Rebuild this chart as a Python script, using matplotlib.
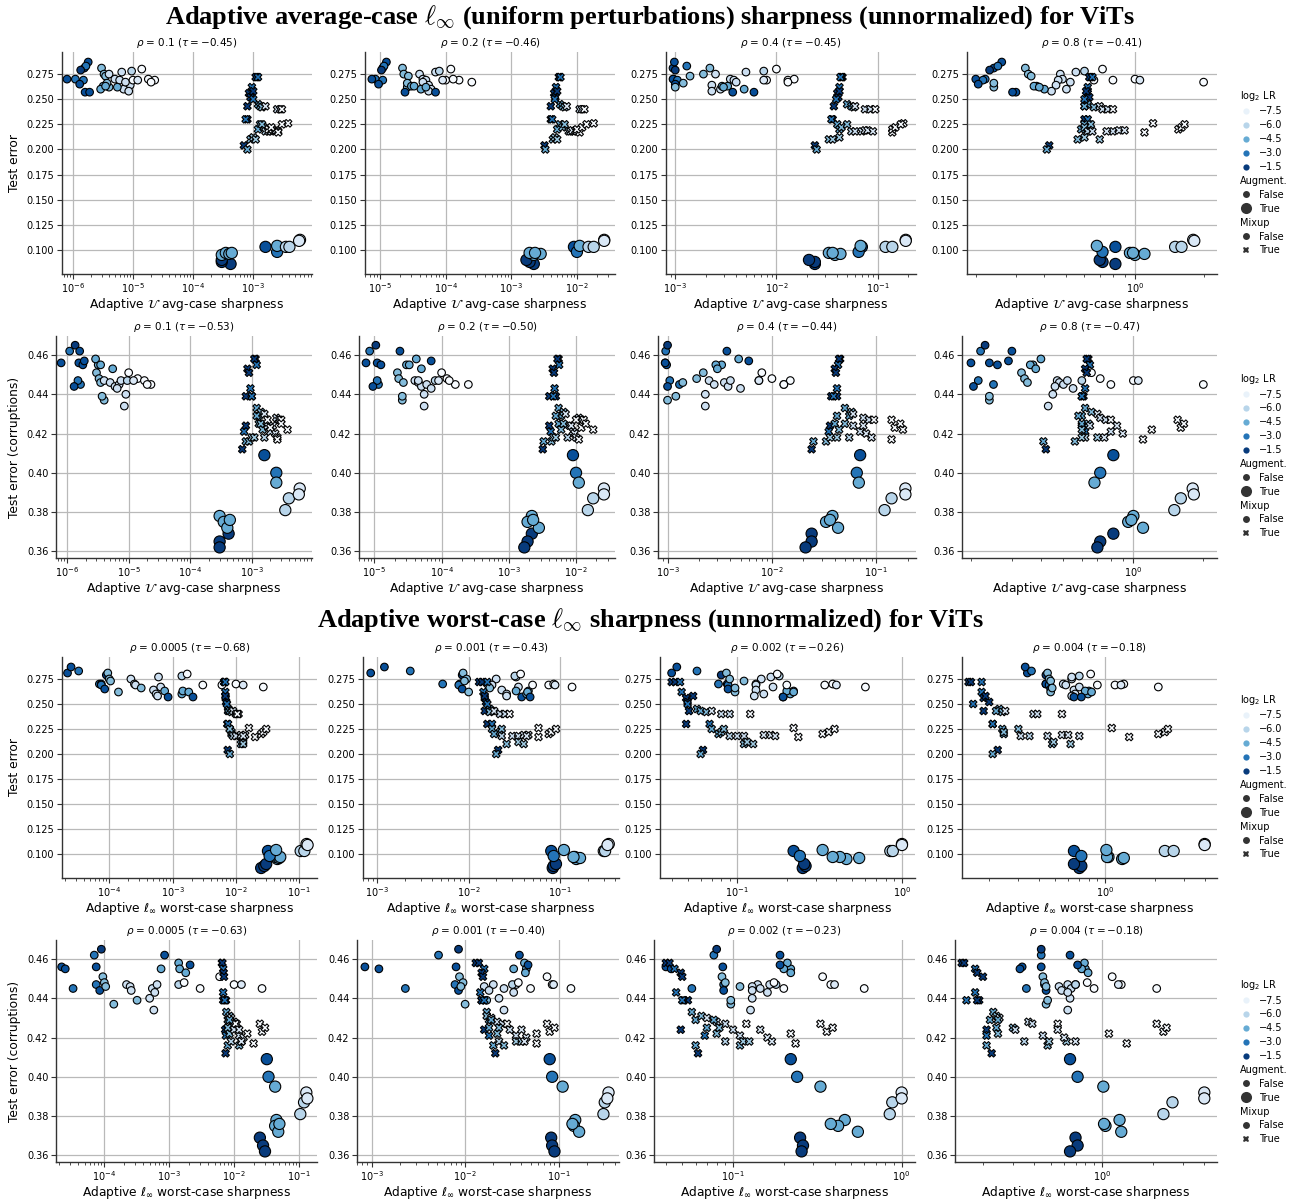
import numpy as np
import matplotlib
matplotlib.use("Agg")
import matplotlib.pyplot as plt
from matplotlib.lines import Line2D
from matplotlib.offsetbox import HPacker, DrawingArea
from matplotlib.ticker import LogLocator, NullFormatter, FormatStrFormatter
from matplotlib.colors import Normalize

# ---------------- data ----------------
# Group N: no augmentation, no mixup (small circles)
N_LR = [-2, -2, -3, -3, -2, -3, -2, -1.5, -5, -5, -5, -5, -6.5, -6.5, -6.5, -5, -6.5,
        -6.5, -6.5, -6.5, -6.5, -4.5, -2, -6, -4.5, -4.5, -8, -4.5, -2, -8, -8, -8, -7, -8]
N_TEST = [0.281, 0.287, 0.283, 0.270, 0.270, 0.269, 0.265, 0.279, 0.281, 0.275, 0.273, 0.262,
          0.275, 0.270, 0.269, 0.266, 0.264, 0.260, 0.258, 0.277, 0.267, 0.263, 0.257, 0.278,
          0.260, 0.263, 0.280, 0.262, 0.257, 0.269, 0.269, 0.270, 0.269, 0.267]
N_CORR = [0.456, 0.455, 0.445, 0.462, 0.456, 0.447, 0.444, 0.465, 0.451, 0.448, 0.446, 0.437,
          0.447, 0.446, 0.444, 0.439, 0.440, 0.445, 0.434, 0.443, 0.447, 0.455, 0.462, 0.447,
          0.458, 0.455, 0.448, 0.453, 0.457, 0.445, 0.451, 0.447, 0.447, 0.445]
N_AVG01 = [1.55e-6, 1.8e-6, 1.65e-6, 1.1e-6, 8e-7, 1.5e-6, 1.3e-6, 1.35e-6, 3e-6, 3.3e-6, 3.5e-6,
           4e-6, 4e-6, 5e-6, 6e-6, 3.7e-6, 9e-6, 7e-6, 8.5e-6, 6.5e-6, 7.5e-6, 3.2e-6, 1.6e-6,
           9.5e-6, 2.9e-6, 3.5e-6, 1.4e-5, 5.5e-6, 1.9e-6, 2.3e-5, 1e-5, 1.8e-5, 1.2e-5, 2e-5]
N_AVG02 = [1.1e-5, 1.25e-5, 1.15e-5, 8.5e-6, 7.5e-6, 1.1e-5, 9.5e-6, 1.05e-5, 2.2e-5, 2.3e-5,
           2.7e-5, 2.6e-5, 4e-5, 4.5e-5, 5e-5, 2.6e-5, 5.5e-5, 6e-5, 5.5e-5, 7e-5, 4.5e-5, 3e-5,
           2.4e-5, 8e-5, 4.2e-5, 3.3e-5, 1.2e-4, 5e-5, 7e-5, 1.6e-4, 1e-4, 1.3e-4, 9e-5, 2.5e-4]
N_AVG04 = [9.5e-4, 9.8e-4, 1.3e-3, 9.6e-4, 9.5e-4, 1.05e-3, 1e-3, 1e-3, 2.2e-3, 1.9e-3, 1.4e-3,
           1e-3, 2.5e-3, 3.5e-3, 3.8e-3, 1.2e-3, 2.3e-3, 2.8e-3, 2.3e-3, 5e-3, 4e-3, 3.3e-3,
           3.7e-3, 7.5e-3, 4.8e-3, 2.9e-3, 1e-2, 3e-3, 6e-3, 1.3e-2, 8e-3, 1.5e-2, 7.5e-3, 1.3e-2]
N_AVG08 = [0.24, 0.26, 0.25, 0.22, 0.20, 0.215, 0.205, 0.23, 0.33, 0.34, 0.35, 0.24, 0.47, 0.48,
           0.46, 0.24, 0.45, 0.50, 0.43, 0.55, 0.52, 0.37, 0.30, 0.60, 0.40, 0.36, 0.72, 0.38,
           0.29, 0.80, 0.66, 1.0, 1.05, 2.0]
N_WC0005 = [2.2e-5, 2.5e-5, 3.3e-5, 7e-5, 7.5e-5, 7.5e-5, 8.5e-5, 9e-5, 9.5e-5, 1e-4, 1.05e-4,
            1.4e-4, 2.2e-4, 2.5e-4, 2.6e-4, 3.2e-4, 5e-4, 5.5e-4, 5.8e-4, 6e-4, 6.5e-4, 7.5e-4,
            8.5e-4, 1.4e-3, 1.4e-3, 1.45e-3, 1.7e-3, 1.8e-3, 2.1e-3, 3e-3, 6e-3, 1e-2, 1.3e-2, 2.7e-2]
N_WC001 = [8.5e-4, 1.2e-3, 2.3e-3, 5.2e-3, 8e-3, 7.8e-3, 8.5e-3, 8.5e-3, 8.7e-3, 9.5e-3, 9e-3,
           1e-2, 2e-2, 1.6e-2, 1.8e-2, 1.7e-2, 2.3e-2, 2.6e-2, 2.6e-2, 3.3e-2, 3.5e-2, 3.3e-2,
           3.8e-2, 3.2e-2, 4.3e-2, 4.5e-2, 3.7e-2, 4.4e-2, 4.7e-2, 5e-2, 7.5e-2, 8.5e-2, 8.8e-2, 0.135]
N_WC002 = [0.040, 0.043, 0.057, 0.077, 0.087, 0.088, 0.088, 0.080, 0.086, 0.090, 0.110, 0.097,
           0.140, 0.130, 0.130, 0.097, 0.130, 0.145, 0.127, 0.160, 0.165, 0.220, 0.190, 0.180,
           0.210, 0.200, 0.175, 0.220, 0.190, 0.200, 0.340, 0.380, 0.400, 0.600]
N_WC004 = [0.34, 0.33, 0.36, 0.44, 0.44, 0.46, 0.47, 0.44, 0.45, 0.46, 0.47, 0.47, 0.63, 0.56,
           0.58, 0.48, 0.65, 0.66, 0.63, 0.63, 0.70, 0.80, 0.65, 0.70, 0.79, 0.76, 0.82, 0.83,
           0.72, 0.90, 1.15, 1.30, 1.25, 2.10]

# Group M: mixup (small X markers)
M_LR = [-1.5, -1.5, -3, -3, -1.5, -1.5, -1.5, -1.5, -1.5, -3, -1.5, -4.5, -4.5, -4.5, -5, -7,
        -6.5, -6.5, -8, -4.5, -4.5, -5, -5, -6, -6.5, -6.5, -5, -5.5, -5.5, -7, -7, -7, -8, -8,
        -8, -8, -8, -3]
M_TEST = [0.272, 0.272, 0.272, 0.262, 0.256, 0.252, 0.258, 0.243, 0.230, 0.230, 0.204, 0.200,
          0.245, 0.243, 0.242, 0.243, 0.240, 0.240, 0.240, 0.225, 0.220, 0.222, 0.225, 0.218,
          0.218, 0.218, 0.210, 0.212, 0.210, 0.219, 0.219, 0.218, 0.226, 0.217, 0.220, 0.222,
          0.225, 0.250]
M_CORR = [0.458, 0.458, 0.455, 0.443, 0.453, 0.451, 0.439, 0.439, 0.424, 0.421, 0.412, 0.416,
          0.433, 0.429, 0.431, 0.430, 0.428, 0.427, 0.427, 0.425, 0.429, 0.422, 0.425, 0.418,
          0.424, 0.421, 0.416, 0.418, 0.418, 0.424, 0.420, 0.418, 0.422, 0.417, 0.427, 0.423,
          0.425, 0.439]
M_AVG01 = [1.15e-3, 1.1e-3, 1.2e-3, 9.5e-4, 8.5e-4, 9e-4, 1e-3, 8e-4, 8e-4, 7.5e-4, 7e-4, 8e-4,
           1.2e-3, 1.3e-3, 1.4e-3, 1.6e-3, 2.5e-3, 2.8e-3, 3e-3, 1.3e-3, 1.2e-3, 1.5e-3, 1.4e-3,
           1.6e-3, 1.8e-3, 2e-3, 9e-4, 1e-3, 1.1e-3, 2.2e-3, 2.4e-3, 2.6e-3, 3.8e-3, 2.6e-3,
           1.8e-3, 2e-3, 3e-3, 1e-3]
M_AVG02 = [5.5e-3, 5.3e-3, 5.6e-3, 4.8e-3, 4.5e-3, 4.7e-3, 5e-3, 4e-3, 4e-3, 4.2e-3, 3.2e-3,
           3.3e-3, 5.5e-3, 6e-3, 6.5e-3, 7e-3, 1.1e-2, 1.2e-2, 1.3e-2, 5.5e-3, 5e-3, 6e-3, 6.5e-3,
           7.5e-3, 8e-3, 9e-3, 4.3e-3, 4.6e-3, 5e-3, 8.5e-3, 9.5e-3, 1e-2, 1.8e-2, 1.1e-2, 1e-2,
           1.2e-2, 1.4e-2, 4.6e-3]
M_AVG04 = [4.5e-2, 4.4e-2, 4.3e-2, 4.2e-2, 4e-2, 4.1e-2, 4.2e-2, 3.7e-2, 3.6e-2, 3.5e-2, 2.4e-2,
           2.5e-2, 5e-2, 5.5e-2, 5.8e-2, 6e-2, 7.5e-2, 8.5e-2, 9.5e-2, 4e-2, 4.2e-2, 4.4e-2, 5e-2,
           5.5e-2, 6e-2, 7e-2, 3.3e-2, 4.2e-2, 3.6e-2, 7.5e-2, 8e-2, 9e-2, 0.18, 0.14, 0.14,
           0.15, 0.17, 3.9e-2]
M_AVG08 = [0.64, 0.63, 0.65, 0.62, 0.62, 0.63, 0.61, 0.60, 0.60, 0.62, 0.42, 0.41, 0.62, 0.60,
           0.66, 0.70, 0.72, 0.76, 0.80, 0.60, 0.58, 0.60, 0.64, 0.62, 0.65, 0.80, 0.56, 0.60,
           0.70, 0.85, 0.90, 0.75, 1.20, 1.10, 1.55, 1.60, 1.65, 0.60]
M_WC0005 = [6.5e-3, 6.6e-3, 6.8e-3, 6.8e-3, 6.9e-3, 7e-3, 6.8e-3, 7.5e-3, 7.3e-3, 7.5e-3, 7.4e-3,
            8e-3, 7.6e-3, 8e-3, 8.5e-3, 9e-3, 1e-2, 1.1e-2, 1.05e-2, 8e-3, 8.5e-3, 8.5e-3, 8e-3,
            9e-3, 1e-2, 1.2e-2, 1.2e-2, 1.3e-2, 1.3e-2, 1.2e-2, 1.4e-2, 1.3e-2, 1.6e-2, 2e-2,
            2.5e-2, 2.7e-2, 3e-2, 7.2e-3]
M_WC001 = [1.3e-2, 1.4e-2, 1.6e-2, 1.45e-2, 1.5e-2, 1.55e-2, 1.5e-2, 1.5e-2, 1.6e-2, 1.8e-2,
           2.1e-2, 2e-2, 1.7e-2, 1.8e-2, 1.7e-2, 1.9e-2, 2.2e-2, 2.5e-2, 2.8e-2, 1.8e-2, 1.9e-2,
           2.2e-2, 2.3e-2, 2.3e-2, 3e-2, 3.5e-2, 2.6e-2, 3.5e-2, 4e-2, 4e-2, 4.5e-2, 4.3e-2,
           5.8e-2, 5.8e-2, 7.5e-2, 8e-2, 9e-2, 1.6e-2]
M_WC002 = [0.040, 0.042, 0.045, 0.046, 0.049, 0.050, 0.054, 0.051, 0.049, 0.068, 0.062, 0.060,
           0.057, 0.060, 0.065, 0.070, 0.080, 0.090, 0.120, 0.070, 0.077, 0.080, 0.083, 0.090,
           0.100, 0.110, 0.110, 0.115, 0.125, 0.145, 0.160, 0.170, 0.220, 0.235, 0.330, 0.360,
           0.390, 0.050]
M_WC004 = [0.150, 0.155, 0.18, 0.18, 0.185, 0.20, 0.19, 0.185, 0.21, 0.21, 0.225, 0.21, 0.23,
           0.22, 0.24, 0.25, 0.37, 0.39, 0.55, 0.24, 0.245, 0.245, 0.30, 0.35, 0.31, 0.45, 0.48,
           0.49, 0.62, 0.55, 0.60, 0.70, 1.10, 1.40, 2.10, 2.30, 2.40, 0.16]

# Group A: augmentation (large circles)
A_LR = [-1.5, -1.5, -1.5, -4.5, -4.5, -4.5, -4.5, -2, -3, -4.5, -6, -6, -7, -7]
A_TEST = [0.086, 0.088, 0.090, 0.095, 0.097, 0.096, 0.097, 0.103, 0.098, 0.104, 0.103, 0.103,
          0.110, 0.109]
A_CORR = [0.369, 0.365, 0.362, 0.378, 0.375, 0.372, 0.376, 0.409, 0.400, 0.395, 0.381, 0.387,
          0.392, 0.389]
A_AVG01 = [4.2e-4, 3e-4, 3e-4, 3e-4, 3.5e-4, 4e-4, 4.4e-4, 1.6e-3, 2.5e-3, 2.5e-3, 3.5e-3, 4e-3,
           6e-3, 5.8e-3]
A_AVG02 = [2.2e-3, 1.9e-3, 1.7e-3, 2.2e-3, 1.9e-3, 2.8e-3, 2.3e-3, 9e-3, 1e-2, 1.1e-2, 1.5e-2,
           1.8e-2, 2.6e-2, 2.6e-2]
A_AVG04 = [2.4e-2, 2.4e-2, 2.1e-2, 3.8e-2, 3.3e-2, 4.3e-2, 3.6e-2, 7e-2, 6.5e-2, 6.8e-2, 0.12,
           0.14, 0.19, 0.19]
A_AVG08 = [0.82, 0.72, 0.70, 1.0, 0.95, 1.1, 0.98, 0.82, 0.72, 0.68, 1.5, 1.6, 1.8, 1.82]
A_WC0005 = [2.5e-2, 2.8e-2, 3e-2, 4.5e-2, 4.3e-2, 4.8e-2, 5e-2, 3.2e-2, 3.4e-2, 4.3e-2, 0.105,
            0.12, 0.13, 0.135]
A_WC001 = [8.3e-2, 8.5e-2, 9e-2, 0.15, 0.145, 0.165, 0.14, 8e-2, 8.5e-2, 0.11, 0.30, 0.31, 0.34,
           0.33]
A_WC002 = [0.25, 0.26, 0.255, 0.46, 0.42, 0.55, 0.38, 0.22, 0.24, 0.33, 0.85, 0.88, 1.0, 1.0]
A_WC004 = [0.70, 0.72, 0.65, 1.27, 1.05, 1.3, 1.03, 0.65, 0.72, 1.02, 2.3, 2.6, 4.0, 4.0]

RHO_AVG = ["0.1", "0.2", "0.4", "0.8"]
RHO_WC = ["0.0005", "0.001", "0.002", "0.004"]
TAU = [["-0.45", "-0.46", "-0.45", "-0.41"],
       ["-0.53", "-0.50", "-0.44", "-0.47"],
       ["-0.68", "-0.43", "-0.26", "-0.18"],
       ["-0.63", "-0.40", "-0.23", "-0.18"]]
LEGEND_LR = [-7.5, -6.0, -4.5, -3.0, -1.5]

# ---------------- layout ----------------
W, H = 1301, 1199
fig = plt.figure(figsize=(W / 100, H / 100), dpi=100)
fig.patch.set_facecolor("white")
cmap = plt.get_cmap("Blues")
norm = Normalize(vmin=-8, vmax=-1.2)

ROW_TB = [(52, 274), (336, 558), (657, 878), (940, 1162)]
ROW_L = [[62, 365, 666, 967], [56, 359, 658, 962], [62, 363, 660, 962], [56, 357, 654, 955]]
ROW_R = [[312, 615, 916, 1217], [312, 615, 916, 1217], [317, 619, 915, 1217], [317, 619, 915, 1217]]

XLIM_AVG = [(6.6e-7, 9.5e-3), (5.9e-6, 3.8e-2), (8.1e-4, 0.24), (0.183, 2.29)]
XLIM_WC = [(1.8e-5, 0.19), (7e-4, 0.44), (0.034, 1.2), (0.137, 4.75)]

NX = [[N_AVG01, N_AVG02, N_AVG04, N_AVG08], [N_WC0005, N_WC001, N_WC002, N_WC004]]
MX = [[M_AVG01, M_AVG02, M_AVG04, M_AVG08], [M_WC0005, M_WC001, M_WC002, M_WC004]]
AX_ = [[A_AVG01, A_AVG02, A_AVG04, A_AVG08], [A_WC0005, A_WC001, A_WC002, A_WC004]]

XLABEL_AVG = r"Adaptive $\mathcal{U}$ avg-case sharpness"
XLABEL_WC = r"Adaptive $\ell_\infty$ worst-case sharpness"

EDGE = dict(edgecolors="black", linewidths=0.8)

for r in range(4):
    half = 0 if r < 2 else 1
    corr = (r % 2 == 1)
    t, b = ROW_TB[r]
    for c in range(4):
        l, rr = ROW_L[r][c], ROW_R[r][c]
        ax = fig.add_axes([l / W, 1 - b / H, (rr - l) / W, (b - t) / H])
        yn = N_CORR if corr else N_TEST
        ym = M_CORR if corr else M_TEST
        ya = A_CORR if corr else A_TEST
        ax.scatter(NX[half][c], yn, s=30, c=N_LR, cmap=cmap, norm=norm, marker="o", zorder=3, **EDGE)
        ax.scatter(MX[half][c], ym, s=30, c=M_LR, cmap=cmap, norm=norm, marker="X", zorder=3, **EDGE)
        ax.scatter(AX_[half][c], ya, s=65, c=A_LR, cmap=cmap, norm=norm, marker="o", zorder=3, **EDGE)
        ax.set_xscale("log")
        ax.set_xlim(*(XLIM_AVG[c] if half == 0 else XLIM_WC[c]))
        ax.xaxis.set_major_locator(LogLocator(base=10, numticks=12))
        ax.xaxis.set_minor_locator(LogLocator(base=10, subs=np.arange(2, 10) * 1.0, numticks=12))
        ax.xaxis.set_minor_formatter(NullFormatter())
        if corr:
            ax.set_ylim(0.3566, 0.4697)
            ax.set_yticks([0.36, 0.38, 0.40, 0.42, 0.44, 0.46])
            ax.yaxis.set_major_formatter(FormatStrFormatter("%.2f"))
        else:
            ax.set_ylim(0.076, 0.297)
            ax.set_yticks([0.100, 0.125, 0.150, 0.175, 0.200, 0.225, 0.250, 0.275])
            ax.yaxis.set_major_formatter(FormatStrFormatter("%.3f"))
        ax.grid(True, which="major", color="#b9b9b9", linewidth=0.9)
        ax.set_axisbelow(True)
        for s in ("top", "right"):
            ax.spines[s].set_visible(False)
        for s in ("left", "bottom"):
            ax.spines[s].set_color("#333333")
            ax.spines[s].set_linewidth(1.0)
        ax.tick_params(axis="both", which="major", labelsize=7, length=3.5, width=0.8,
                       color="#333333", pad=2)
        ax.tick_params(axis="x", which="minor", length=2, width=0.6, color="#333333")
        rho = RHO_AVG[c] if half == 0 else RHO_WC[c]
        ax.set_title(r"$\rho$ = %s ($\tau = %s$)" % (rho, TAU[r][c]), fontsize=7.5, pad=4)
        ax.set_xlabel(XLABEL_AVG if half == 0 else XLABEL_WC, fontsize=8.8, labelpad=0.5)
        if c == 0:
            ax.set_ylabel("Test error (corruptions)" if corr else "Test error", fontsize=8.8,
                          labelpad=4)

# ---------------- legends ----------------
def make_legend(yc):
    handles, labels = [], []

    def sub(txt):
        handles.append(Line2D([0], [0], linestyle="none", marker="o", visible=False))
        labels.append(txt)

    sub(r"log$_2$ LR")
    for v in LEGEND_LR:
        handles.append(Line2D([0], [0], linestyle="none", marker="o", markersize=4.5,
                              markerfacecolor=cmap(norm(v)), markeredgewidth=0))
        labels.append("\u2212%.1f" % (-v))
    sub("Augment.")
    handles.append(Line2D([0], [0], linestyle="none", marker="o", markersize=5,
                          markerfacecolor="#333333", markeredgewidth=0))
    labels.append("False")
    handles.append(Line2D([0], [0], linestyle="none", marker="o", markersize=8,
                          markerfacecolor="#333333", markeredgewidth=0))
    labels.append("True")
    sub("Mixup")
    handles.append(Line2D([0], [0], linestyle="none", marker="o", markersize=5,
                          markerfacecolor="#333333", markeredgewidth=0))
    labels.append("False")
    handles.append(Line2D([0], [0], linestyle="none", marker="X", markersize=5,
                          markerfacecolor="#333333", markeredgewidth=0))
    labels.append("True")
    leg = fig.legend(handles, labels, loc="center left", bbox_to_anchor=(1236 / W, 1 - yc / H),
                     frameon=False, fontsize=7, labelspacing=0.40, handletextpad=0.4,
                     handlelength=2.0, borderpad=0.0, borderaxespad=0.0)
    for hp in leg.findobj(HPacker):
        ch = hp.get_children()
        if len(ch) == 2 and isinstance(ch[0], DrawingArea):
            arts = ch[0].get_children()
            if arts and not all(a.get_visible() for a in arts):
                ch[0].set_width(0)
    return leg


for yc in (172, 455, 776, 1061):
    make_legend(yc)

# ---------------- titles ----------------
fig.text(0.5, 1 - 17 / H,
         r"Adaptive average-case $\ell_\infty$ (uniform perturbations) sharpness (unnormalized) for ViTs",
         ha="center", va="center", fontsize=19, fontweight="bold", family="Liberation Serif",
         math_fontfamily="cm")
fig.text(0.5, 1 - 620 / H,
         r"Adaptive worst-case $\ell_\infty$ sharpness (unnormalized) for ViTs",
         ha="center", va="center", fontsize=19, fontweight="bold", family="Liberation Serif",
         math_fontfamily="cm")

fig.savefig("out.png", dpi=100, facecolor="white")
